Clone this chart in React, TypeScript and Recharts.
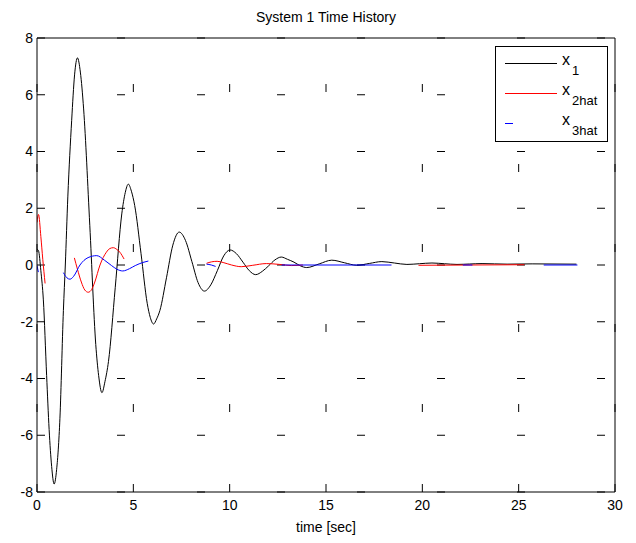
import { LineChart, Line, XAxis, YAxis, CartesianGrid, Legend } from "recharts";

const xTicks = [0, 5, 10, 15, 20, 25, 30];
const yTicks = [-8, -6, -4, -2, 0, 2, 4, 6, 8];

// [time, value]; a null value breaks the trace
const x1Pts: [number, number | null][] = [
  [0, 0.56], [0.08, 0.5], [0.2, -0.2], [0.33, -1.23], [0.5, -3.9], [0.63, -5.8], [0.76, -7.1],
  [0.89, -7.72], [1.02, -7.2], [1.19, -5.4], [1.37, -1.6], [1.47, 0], [1.6, 2.4], [1.8, 5.1],
  [1.95, 6.7], [2.1, 7.3], [2.25, 6.8], [2.42, 5.5], [2.74, 1.4], [3.05, -2.8], [3.2, -3.9],
  [3.37, -4.5], [3.53, -4.1], [3.71, -3.4], [4.06, -0.8], [4.4, 1.8], [4.58, 2.55], [4.74, 2.85],
  [4.9, 2.6], [5.07, 2.1], [5.4, 0.4], [5.72, -1.35], [5.88, -1.85], [6.05, -2.08], [6.21, -1.9],
  [6.38, -1.6], [6.72, -0.45], [7.05, 0.7], [7.38, 1.16], [7.71, 0.86], [8.04, 0.12], [8.36, -0.62],
  [8.69, -0.92], [9.02, -0.7], [9.36, -0.2], [9.69, 0.32], [10.02, 0.53], [10.35, 0.4], [10.69, 0.1],
  [11.02, -0.2], [11.35, -0.34], [11.7, -0.22], [12.02, -0.03], [12.35, 0.18], [12.68, 0.28],
  [13.0, 0.2], [13.34, 0.1], [13.67, -0.03], [14.0, -0.09], [14.65, 0.04], [15.3, 0.17], [15.95, 0.08],
  [16.6, -0.01], [17.25, 0.055], [17.9, 0.12], [18.55, 0.07], [19.2, 0.02], [19.85, 0.045], [20.5, 0.07],
  [21.15, 0.045], [21.8, 0.02], [22.45, 0.035], [23.1, 0.05], [24.4, 0.03], [25.7, 0.04], [28.0, 0.03],
];

const x2hatPts: [number, number | null][] = [
  [0, 1.5], [0.08, 1.78], [0.2, 1.0], [0.3, 0.2], [0.42, -0.65], [1.2, null],
  [1.94, 0.25], [2.1, -0.15], [2.3, -0.6], [2.48, -0.88], [2.66, -0.96], [2.84, -0.86], [3.0, -0.6],
  [3.27, 0], [3.6, 0.45], [3.78, 0.58], [3.96, 0.61], [4.14, 0.55], [4.3, 0.45], [4.52, 0.21], [6, null],
  [8.8, 0.06], [9.05, 0.11], [9.35, 0.13], [9.7, 0.08], [10.1, 0.0], [10.6, -0.06], [11.2, -0.01],
  [11.9, 0.05], [12.6, 0.02], [13.2, -0.02], [13.8, 0.0], [16, null],
  [19.8, -0.01], [22.5, 0.0], [25.3, 0.01],
];

const x3hatPts: [number, number | null][] = [
  [0, -0.02], [0.07, -0.25], [0.5, null],
  [1.37, -0.27], [1.55, -0.45], [1.71, -0.5], [1.9, -0.4], [2.23, 0], [2.65, 0.26], [3.1, 0.33],
  [3.5, 0.17], [3.87, -0.02], [4.15, -0.15], [4.45, -0.21], [4.8, -0.13], [5.1, -0.02], [5.5, 0.09],
  [5.78, 0.14], [7, null],
  [8.8, 0.03], [9.05, 0.0], [9.27, -0.05], [10, null],
  [12.7, 0.0], [18.4, 0.0], [20, null],
  [22.1, 0.0], [22.6, 0.0], [24, null],
  [26.3, 0.0], [28.05, 0.0],
];

const legendItems = [
  { sub: "1", color: "#000000", len: 52 },
  { sub: "2hat", color: "#ff0000", len: 52 },
  { sub: "3hat", color: "#0000ff", len: 8 },
];

const toRows = (pts: [number, number | null][]) => pts.map(([t, y]) => ({ t, y }));

const FONT = '"Liberation Sans", Arial, Helvetica, sans-serif';

function MatlabLegend() {
  return (
    <svg width={113} height={96} style={{ display: "block", fontFamily: FONT }}>
      <rect x={0.5} y={0.5} width={112} height={95} fill="#fff" stroke="#000" />
      {legendItems.map((it, i) => (
        <g key={it.sub}>
          <line x1={10} x2={10 + it.len} y1={17.5 + i * 30} y2={17.5 + i * 30} stroke={it.color} />
          <text x={67} y={19 + i * 30} fontSize={16} fill="#000">x</text>
          <text x={77} y={29 + i * 30} fontSize={13} fill="#000">{it.sub}</text>
        </g>
      ))}
    </svg>
  );
}

export default function App() {
  return (
    <div style={{ position: "absolute", left: 0, top: 0, width: 636, height: 543, background: "#fff", fontFamily: FONT }}>
      <div style={{ position: "absolute", left: 37, width: 578, top: 9, lineHeight: "16px", fontSize: 14, textAlign: "center", color: "#000" }}>
        System 1 Time History
      </div>
      <LineChart width={636} height={543} margin={{ top: 38, right: 21, bottom: 0, left: 0 }}>
        <CartesianGrid vertical={false} stroke="#000" strokeDasharray="8 72" />
        <CartesianGrid horizontal={false} stroke="#000" strokeDasharray="8 72" strokeDashoffset={34} />
        <XAxis
          dataKey="t"
          type="number"
          domain={[0, 30]}
          ticks={xTicks}
          allowDataOverflow
          height={51}
          tickLine={false}
          tickSize={0}
          tickMargin={8}
          axisLine={{ stroke: "#000" }}
          tick={{ fontSize: 14, fill: "#000" }}
          label={{ value: "time [sec]", position: "insideBottom", offset: 11, fill: "#000", fontSize: 14 }}
        />
        <XAxis xAxisId="top" orientation="top" mirror type="number" domain={[0, 30]} ticks={xTicks} allowDataOverflow
          tick={false} tickSize={6} tickLine={{ stroke: "#000" }} axisLine={{ stroke: "#000" }} />
        <XAxis xAxisId="bot" orientation="bottom" mirror type="number" domain={[0, 30]} ticks={xTicks} allowDataOverflow
          tick={false} tickSize={6} tickLine={{ stroke: "#000" }} axisLine={false} />
        <YAxis
          type="number"
          domain={[-8, 8]}
          ticks={yTicks}
          allowDataOverflow
          width={37}
          tickLine={false}
          tickSize={0}
          tickMargin={4}
          axisLine={{ stroke: "#000" }}
          tick={{ fontSize: 14, fill: "#000" }}
        />
        <YAxis yAxisId="lin" orientation="left" mirror type="number" domain={[-8, 8]} ticks={yTicks} allowDataOverflow
          tick={false} tickSize={6} tickLine={{ stroke: "#000" }} axisLine={false} />
        <YAxis yAxisId="rin" orientation="right" mirror type="number" domain={[-8, 8]} ticks={yTicks} allowDataOverflow
          tick={false} tickSize={6} tickLine={{ stroke: "#000" }} axisLine={{ stroke: "#000" }} />
        <Line data={toRows(x1Pts)} dataKey="y" name="x1" type="monotone" stroke="#000000" strokeWidth={1}
          dot={false} activeDot={false} isAnimationActive={false} />
        <Line data={toRows(x2hatPts)} dataKey="y" name="x2hat" type="monotone" stroke="#ff0000" strokeWidth={1}
          dot={false} activeDot={false} isAnimationActive={false} />
        <Line data={toRows(x3hatPts)} dataKey="y" name="x3hat" type="monotone" stroke="#0000ff" strokeWidth={1}
          dot={false} activeDot={false} isAnimationActive={false} />
        <Legend
          layout="vertical"
          align="center"
          verticalAlign="middle"
          wrapperStyle={{ left: 495, top: 46, width: 113, height: 96 }}
          content={() => <MatlabLegend />}
        />
      </LineChart>
    </div>
  );
}
